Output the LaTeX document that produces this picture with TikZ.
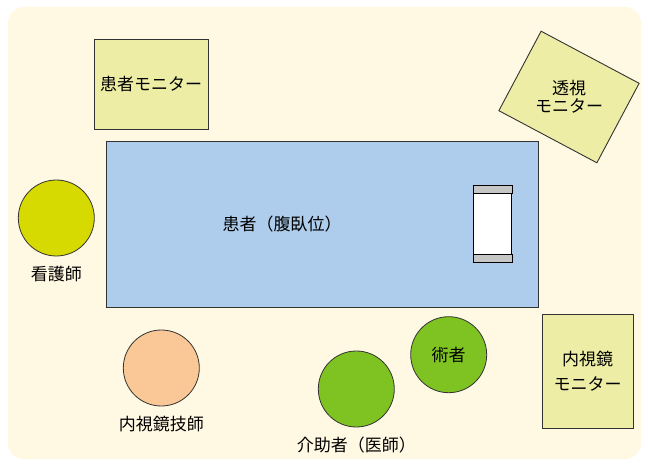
\documentclass[tikz,border=0pt]{standalone}
\usepackage{fontspec}
\setmainfont{Noto Sans CJK JP}
\begin{document}
\begin{tikzpicture}[x=1pt,y=-1pt,
  every node/.style={font=\fontsize{17}{20}\selectfont, text=black},
  monitor/.style={draw=black!80, line width=0.9pt, fill=monfill, align=center, inner sep=0pt},
  person/.style={draw=black!80, line width=0.8pt, circle, minimum size=76pt, inner sep=0pt},
  lbl/.style={inner sep=0pt, align=center}
]
\definecolor{bgfill}{HTML}{FFF8E2}
\definecolor{monfill}{HTML}{EDEDA6}
\definecolor{tablefill}{HTML}{AECCEB}
\definecolor{nursefill}{HTML}{D6DA00}
\definecolor{techfill}{HTML}{F9C896}
\definecolor{greenfill}{HTML}{7EC322}
\definecolor{capfill}{HTML}{C6C6C6}
\useasboundingbox (0,0) rectangle (648,465);
\fill[white] (0,0) rectangle (648,465);
\fill[bgfill, rounded corners=16pt] (8,7) rectangle (641,459);

% patient monitor
\node[monitor, minimum width=114pt, minimum height=90pt] (pm) at (151,84) {患者モニター};
% fluoroscopy monitor (rotated box, upright text)
\node[monitor, minimum width=111pt, minimum height=90pt, rotate=-28] (fm) at (569,97) {};
\node[lbl] (fmlbl) at (fm.center) {透視\\[-2pt]モニター};
% table
\node[draw=black!80, line width=0.9pt, fill=tablefill, minimum width=432pt, minimum height=166pt, inner sep=0pt] (table) at (322,224) {};
\node[lbl] (patient) at (282,224) {患者（腹臥位）};
% pillow
\node[draw=black, line width=0.9pt, fill=white, minimum width=38pt, minimum height=76pt, inner sep=0pt] (pillow) at (492.5,224.3) {};
\draw[line width=0.9pt, fill=capfill] (pillow.north west) rectangle ([yshift=-8pt]pillow.north east);
\draw[line width=0.9pt, fill=capfill] ([yshift=8pt]pillow.south west) rectangle (pillow.south east);
% endoscope monitor
\node[monitor, minimum width=91pt, minimum height=114pt] (em) at (587.5,371.3) {内視鏡\\[5pt]モニター};

% persons
\node[person, fill=nursefill] (nurse) at (56.3,218) {};
\node[lbl] (nurselbl) at (56.3,274) {看護師};
\node[person, fill=techfill] (tech) at (161.3,368) {};
\node[lbl] (techlbl) at (161.3,424) {内視鏡技師};
\node[person, fill=greenfill] (assist) at (356.3,389) {};
\node[lbl] (assistlbl) at (356.3,445) {介助者（医師）};
\node[person, fill=greenfill] (surgeon) at (448.7,354.7) {術者};
\end{tikzpicture}
\end{document}
